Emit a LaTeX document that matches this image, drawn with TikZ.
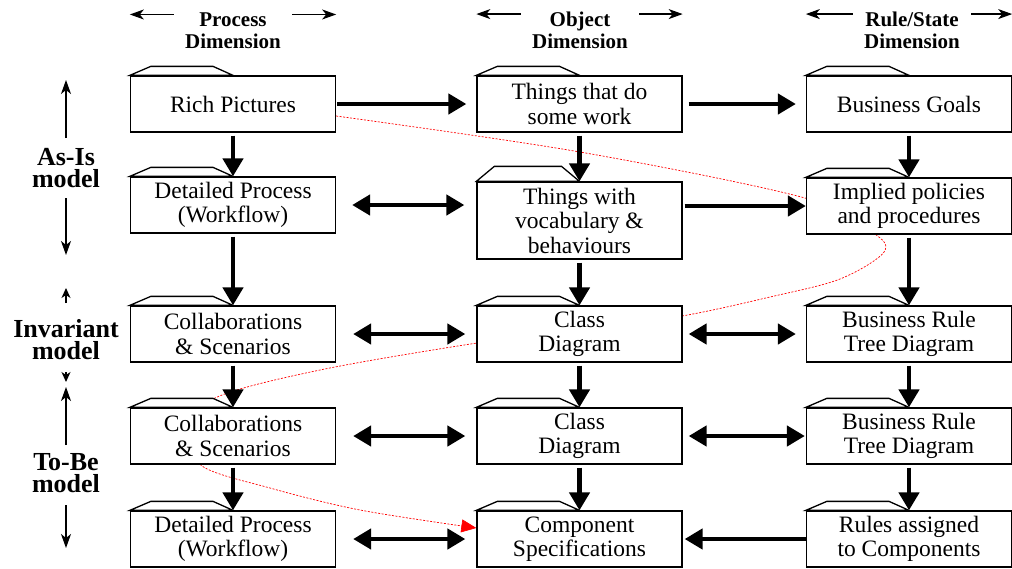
\documentclass[tikz,border=0pt]{standalone}
\usepackage{fontspec}
\setmainfont{Liberation Serif}
\usetikzlibrary{arrows.meta,calc}
\pgfdeclarelayer{background}
\pgfsetlayers{background,main}
\begin{document}
\begin{tikzpicture}[x=1pt,y=-1pt,
  box/.style={draw, fill=white, line width=1.3pt, minimum width=205pt, minimum height=56pt,
    inner sep=0pt, align=center, font=\fontsize{23.5}{24.5}\selectfont},
  tab/.style={draw, fill=white, line width=1.3pt, line join=miter},
  flow/.style={line width=4.5pt, -{Triangle[length=18pt,width=20pt]}},
  flowboth/.style={line width=4.5pt, {Triangle[length=18pt,width=20pt]}-{Triangle[length=18pt,width=20pt]}},
  head/.style={font=\bfseries\fontsize{21}{21.5}\selectfont, align=center, anchor=base, inner sep=0pt},
  phase/.style={font=\bfseries\fontsize{26}{22}\selectfont, align=center, anchor=base, inner sep=0pt},
  guide/.style={line width=1.2pt, -{Stealth[length=14pt,width=10pt,inset=4pt]}},
  trace/.style={red, line width=0.7pt, dash pattern=on 2pt off 1.5pt, -{Triangle[length=15pt,width=13pt]}}
]
\useasboundingbox (0,0) rectangle (1012,568);

% column headings (base = baseline of the last line)
\node[head] (h1) at (233,48) {Process\\Dimension};
\node[head] (h2) at (580,48) {Object\\Dimension};
\node[head] (h3) at (912,48) {Rule/State\\Dimension};

% model phases on the left
\node[phase] (asis) at (66,187) {As-Is\\model};
\node[phase] (inv) at (66,359) {Invariant\\model};
\node[phase] (tobe) at (66,492) {To-Be\\model};

% row 1
\node[box] (rp) at (233,104) {Rich Pictures};
\node[box] (tw) at (579.5,104) {Things that do\\some work};
\node[box] (bg) at (909,104) {Business Goals};
% row 2
\node[box] (dp1) at (233,205) {Detailed Process\\(Workflow)};
\node[box, minimum height=77pt] (tv) at (579.5,220.5) {Things with\\vocabulary \&\\behaviours};
\node[box] (ip) at (909,206) {Implied policies\\and procedures};
% row 3
\node[box] (cs1) at (233,334) {Collaborations\\\& Scenarios};
\node[box] (cd1) at (579.5,334) {Class\\Diagram};
\node[box] (br1) at (909,334) {Business Rule\\Tree Diagram};
% row 4
\node[box] (cs2) at (233,436) {Collaborations\\\& Scenarios};
\node[box] (cd2) at (579.5,436) {Class\\Diagram};
\node[box] (br2) at (909,436) {Business Rule\\Tree Diagram};
% row 5
\node[box] (dp2) at (233,539) {Detailed Process\\(Workflow)};
\node[box] (comp) at (579.5,539) {Component\\Specifications};
\node[box] (ra) at (909,539) {Rules assigned\\to Components};

% folder tabs on top of each box
\foreach \n in {rp,tw,bg,dp1,ip,cs1,cd1,br1,cs2,cd2,br2,dp2,comp,ra}
  \draw[tab] (\n.north west) -- ++(21,-9) -- ([shift={(-20pt,9pt)}]\n.north) -- (\n.north) -- cycle;
\draw[tab] (tv.north west) -- ++(18,-15) -- ([shift={(-18pt,15pt)}]tv.north) -- (tv.north) -- cycle;

% trace thread running behind the boxes
\coordinate (redstart) at ([yshift=-12pt]rp.east);
\coordinate (redend) at ([yshift=11pt]comp.west);
\begin{pgfonlayer}{background}
\draw[trace] plot[smooth, tension=0.55] coordinates {(redstart) (580,152) (805,198) (872,232)
  (884,252) (840,279) (770,297) (682,316) (580,330) (477,343) (320,370) (215,398) (190,432)
  (202,466) (270,488) (360,510) (redend)};
\end{pgfonlayer}

% heading arrows
\draw[guide] ([xshift=-11pt,yshift=16pt]h1.west) -- ([yshift=16pt]h1.west -| rp.west);
\draw[guide] ([xshift=11pt,yshift=16pt]h1.east) -- ([yshift=16pt]h1.east -| rp.east);
\draw[guide] ([xshift=-11pt,yshift=16pt]h2.west) -- ([yshift=16pt]h2.west -| tw.west);
\draw[guide] ([xshift=11pt,yshift=16pt]h2.east) -- ([yshift=16pt]h2.east -| tw.east);
\draw[guide] ([xshift=-11pt,yshift=16pt]h3.west) -- ([yshift=16pt]h3.west -| bg.west);
\draw[guide] ([xshift=11pt,yshift=16pt]h3.east) -- ([yshift=16pt]h3.east -| bg.east);

% phase arrows
\draw[guide] ([yshift=49pt]asis.base) -- ++(0,-58);
\draw[guide] ([yshift=-11pt]asis.base) -- ++(0,57);
\draw[guide, -{Stealth[length=10pt,width=9pt,inset=3pt]}] ([yshift=56pt]inv.base) -- ++(0,-15);
\draw[guide, -{Stealth[length=10pt,width=9pt,inset=3pt]}] ([yshift=-13pt]inv.base) -- ++(0,10);
\draw[guide] ([yshift=47pt]tobe.base) -- ++(0,-58);
\draw[guide] ([yshift=-13pt]tobe.base) -- ++(0,43);

% vertical flow
\foreach \a/\b in {rp/dp1, dp1/cs1, cs1/cs2, cs2/dp2, tw/tv, tv/cd1, cd1/cd2, cd2/comp,
                   bg/ip, ip/br1, br1/br2, br2/ra}
  \draw[flow] ([yshift=-3pt]\a.south) -- (\b.north);

% horizontal flow
\draw[flow] ([xshift=1pt]rp.east) -- ([xshift=-10pt]tw.west);
\draw[flow] ([xshift=6pt]tw.east) -- ([xshift=-10pt]bg.west);
\draw[flowboth] ([xshift=16pt]dp1.east) -- ([xshift=-12pt]dp1.east -| tv.west);
\draw[flow] ([xshift=2pt]ip.west -| tv.east) -- (ip.west);
\draw[flowboth] ([xshift=17pt]cs1.east) -- ([xshift=-11pt]cd1.west);
\draw[flowboth] ([xshift=6pt]cd1.east) -- ([xshift=-10pt]br1.west);
\draw[flowboth] ([xshift=17pt]cs2.east) -- ([xshift=-11pt]cd2.west);
\draw[flowboth] ([xshift=6pt]cd2.east) -- ([xshift=-1pt]br2.west);
\draw[flowboth] ([xshift=17pt]dp2.east) -- ([xshift=-11pt]comp.west);
\draw[flow] (ra.west) -- ([xshift=2pt]comp.east);
\end{tikzpicture}
\end{document}
